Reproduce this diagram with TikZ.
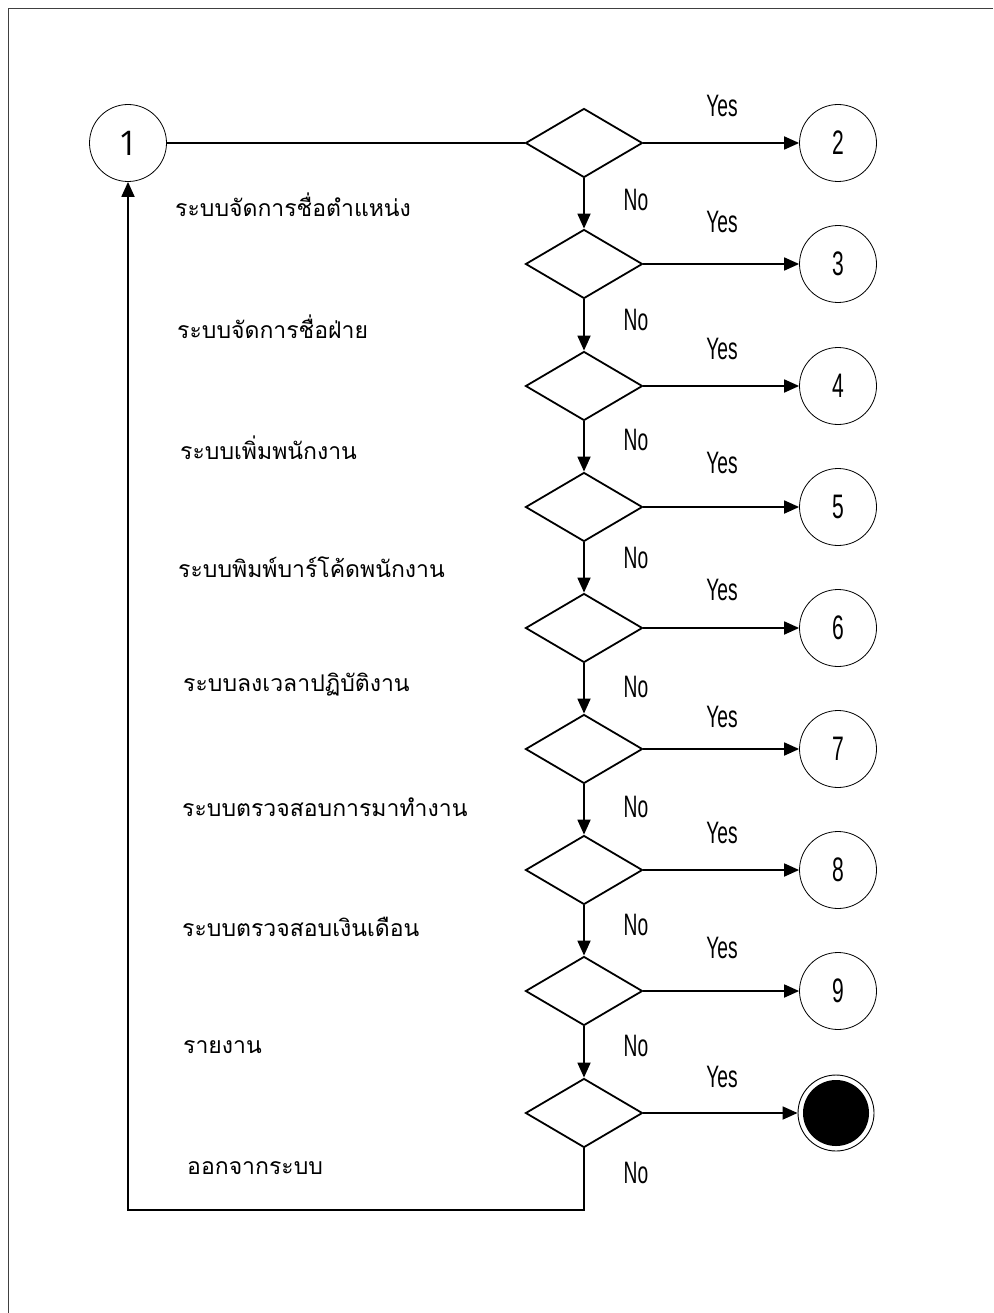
\documentclass[tikz,border=0pt]{standalone}
\usepackage{fontspec}
\newfontfamily\thaifont[Script=Thai]{Loma}
\newfontfamily\narrowfont[FakeStretch=0.62]{Liberation Sans}
\newfontfamily\numfont{Open Sans}
\usetikzlibrary{shapes.geometric,arrows.meta}

\begin{document}
\begin{tikzpicture}
[x=1pt,y=-1pt,>={Triangle[length=15pt,width=13pt]},
 decision/.style = {draw, diamond, line width=1.8pt, minimum width=117pt, minimum height=69pt, inner sep=0pt, aspect=1.7},
 state/.style = {draw, circle, line width=0.8pt, minimum size=77pt, inner sep=0pt, font=\narrowfont\fontsize{34}{40}\selectfont},
 final/.style = {draw, circle, line width=0.9pt, minimum size=76pt, inner sep=0pt, path picture={\fill (path picture bounding box.center) circle (33pt);}},
 menu/.style = {anchor=west, inner sep=0pt, font=\thaifont\fontsize{23}{28}\selectfont},
 answer/.style = {font=\narrowfont\fontsize{31}{36}\selectfont},
 flow/.style = {line width=1.8pt},]

\useasboundingbox (0,0) rectangle (993,1313);
\draw [gray!50!black, line width=1pt] (993,8.5) -- (8.5,8.5) -- (8.5,1313);

\node (n1) at (128,143)[state,font=\numfont\fontsize{34}{40}\selectfont] {1};

\node (d1) at (584,143)[decision] {};
\node (d2) at (584,264)[decision] {};
\node (d3) at (584,386)[decision] {};
\node (d4) at (584,507)[decision] {};
\node (d5) at (584,628)[decision] {};
\node (d6) at (584,749)[decision] {};
\node (d7) at (584,870)[decision] {};
\node (d8) at (584,991)[decision] {};
\node (d9) at (584,1113)[decision] {};

\node (n2) at (838,143)[state] {2};
\node (n3) at (838,264)[state] {3};
\node (n4) at (838,386)[state] {4};
\node (n5) at (838,507)[state] {5};
\node (n6) at (838,628)[state] {6};
\node (n7) at (838,749)[state] {7};
\node (n8) at (838,870)[state] {8};
\node (n9) at (838,991)[state] {9};
\node (stop) at (836,1113)[final] {};

\node (m1) at (175,205)[menu] {ระบบจัดการชื่อตำแหน่ง};
\node (m2) at (177,327)[menu] {ระบบจัดการชื่อฝ่าย};
\node (m3) at (180,448)[menu] {ระบบเพิ่มพนักงาน};
\node (m4) at (178,567)[menu] {ระบบพิมพ์บาร์โค้ดพนักงาน};
\node (m5) at (183,685)[menu] {ระบบลงเวลาปฏิบัติงาน};
\node (m6) at (182,807)[menu] {ระบบตรวจสอบการมาทำงาน};
\node (m7) at (182,927)[menu] {ระบบตรวจสอบเงินเดือน};
\node (m8) at (183,1047)[menu] {รายงาน};
\node (m9) at (187,1168)[menu] {ออกจากระบบ};

\node [answer] at (722,106) {Yes};
\node [answer] at (722,222) {Yes};
\node [answer] at (722,349) {Yes};
\node [answer] at (722,463) {Yes};
\node [answer] at (722,590) {Yes};
\node [answer] at (722,717) {Yes};
\node [answer] at (722,833) {Yes};
\node [answer] at (722,948) {Yes};
\node [answer] at (722,1077) {Yes};

\node [answer] at (636,200) {No};
\node [answer] at (636,320) {No};
\node [answer] at (636,440) {No};
\node [answer] at (636,558) {No};
\node [answer] at (636,687) {No};
\node [answer] at (636,807) {No};
\node [answer] at (636,925) {No};
\node [answer] at (636,1046) {No};
\node [answer] at (636,1173) {No};

\draw [flow] (n1)--(d1.west);
\draw [flow,->] (d1.east)--(n2);
\draw [flow,->] (d2.east)--(n3);
\draw [flow,->] (d3.east)--(n4);
\draw [flow,->] (d4.east)--(n5);
\draw [flow,->] (d5.east)--(n6);
\draw [flow,->] (d6.east)--(n7);
\draw [flow,->] (d7.east)--(n8);
\draw [flow,->] (d8.east)--(n9);
\draw [flow,->] (d9.east)--(stop);

\draw [flow,->] (d1.south)--(d2.north);
\draw [flow,->] (d2.south)--(d3.north);
\draw [flow,->] (d3.south)--(d4.north);
\draw [flow,->] (d4.south)--(d5.north);
\draw [flow,->] (d5.south)--(d6.north);
\draw [flow,->] (d6.south)--(d7.north);
\draw [flow,->] (d7.south)--(d8.north);
\draw [flow,->] (d8.south)--(d9.north);

% back to the start
\coordinate (back) at (128,1210);
\draw [flow,->] (d9.south) |- (back) -- (n1.south);

\end{tikzpicture}
\end{document}
